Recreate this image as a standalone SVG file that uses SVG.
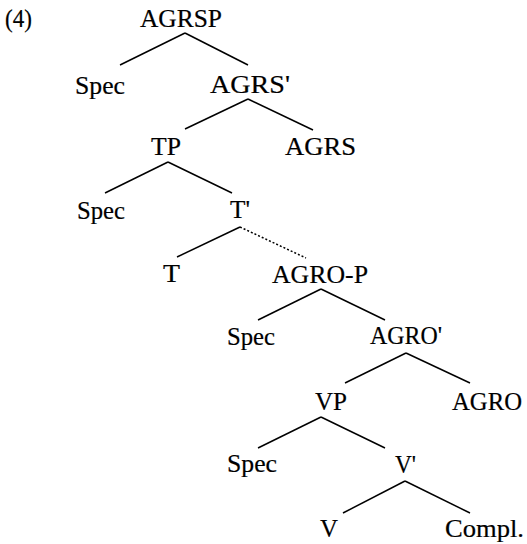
<svg xmlns="http://www.w3.org/2000/svg" width="527" height="544" viewBox="0 0 527 544">
<style>
  text { font-family: "Liberation Serif", "Times New Roman", serif; font-size: 26px; fill: #000; stroke: #000; stroke-width: 0.2; }
  .edge { stroke: #000; stroke-width: 1.5; fill: none; }
  .dotted { stroke-dasharray: 2 2; }
</style>
<rect width="527" height="544" fill="#fff"/>
<text id="label-4" x="5" y="27" textLength="27" lengthAdjust="spacingAndGlyphs">(4)</text>
<g id="connectors">
  <line class="edge" x1="185" y1="33" x2="120" y2="65"/>
  <line class="edge" x1="185" y1="33" x2="248" y2="65"/>
  <line class="edge" x1="248" y1="99" x2="185" y2="129"/>
  <line class="edge" x1="248" y1="99" x2="313" y2="130"/>
  <line class="edge" x1="168" y1="162" x2="105" y2="193"/>
  <line class="edge" x1="168" y1="162" x2="232" y2="193"/>
  <line class="edge" x1="240" y1="227" x2="177" y2="257"/>
  <line class="edge dotted" x1="240" y1="227" x2="306" y2="258"/>
  <line class="edge" x1="321" y1="289" x2="258" y2="320"/>
  <line class="edge" x1="321" y1="289" x2="385" y2="320"/>
  <line class="edge" x1="406" y1="353" x2="345" y2="383"/>
  <line class="edge" x1="406" y1="353" x2="470" y2="383"/>
  <line class="edge" x1="321" y1="417" x2="258" y2="448"/>
  <line class="edge" x1="321" y1="417" x2="385" y2="448"/>
  <line class="edge" x1="405" y1="481" x2="343" y2="513"/>
  <line class="edge" x1="405" y1="481" x2="470" y2="513"/>
</g>
<g id="node-agrsp"><text x="140" y="27" textLength="82" lengthAdjust="spacingAndGlyphs">AGRSP</text></g>
<g id="node-spec1"><text x="75" y="94" textLength="50" lengthAdjust="spacingAndGlyphs">Spec</text></g>
<g id="node-agrs-bar"><text x="210" y="93" textLength="80" lengthAdjust="spacingAndGlyphs">AGRS'</text></g>
<g id="node-tp"><text x="151" y="155" textLength="30" lengthAdjust="spacingAndGlyphs">TP</text></g>
<g id="node-agrs"><text x="285" y="155" textLength="71" lengthAdjust="spacingAndGlyphs">AGRS</text></g>
<g id="node-spec2"><text x="77" y="219" textLength="48" lengthAdjust="spacingAndGlyphs">Spec</text></g>
<g id="node-t-bar"><text x="230" y="218" textLength="20" lengthAdjust="spacingAndGlyphs">T'</text></g>
<g id="node-t"><text x="163" y="282" textLength="17" lengthAdjust="spacingAndGlyphs">T</text></g>
<g id="node-agro-p"><text x="272" y="283" textLength="96" lengthAdjust="spacingAndGlyphs">AGRO-P</text></g>
<g id="node-spec3"><text x="227" y="345" textLength="48" lengthAdjust="spacingAndGlyphs">Spec</text></g>
<g id="node-agro-bar"><text x="370" y="344" textLength="72" lengthAdjust="spacingAndGlyphs">AGRO'</text></g>
<g id="node-vp"><text x="315" y="410" textLength="32" lengthAdjust="spacingAndGlyphs">VP</text></g>
<g id="node-agro"><text x="452" y="410" textLength="70" lengthAdjust="spacingAndGlyphs">AGRO</text></g>
<g id="node-spec4"><text x="227" y="472" textLength="50" lengthAdjust="spacingAndGlyphs">Spec</text></g>
<g id="node-v-bar"><text x="395" y="473" textLength="21" lengthAdjust="spacingAndGlyphs">V'</text></g>
<g id="node-v"><text x="320" y="537" textLength="18" lengthAdjust="spacingAndGlyphs">V</text></g>
<g id="node-compl"><text x="445" y="537" textLength="79" lengthAdjust="spacingAndGlyphs">Compl.</text></g>
</svg>
